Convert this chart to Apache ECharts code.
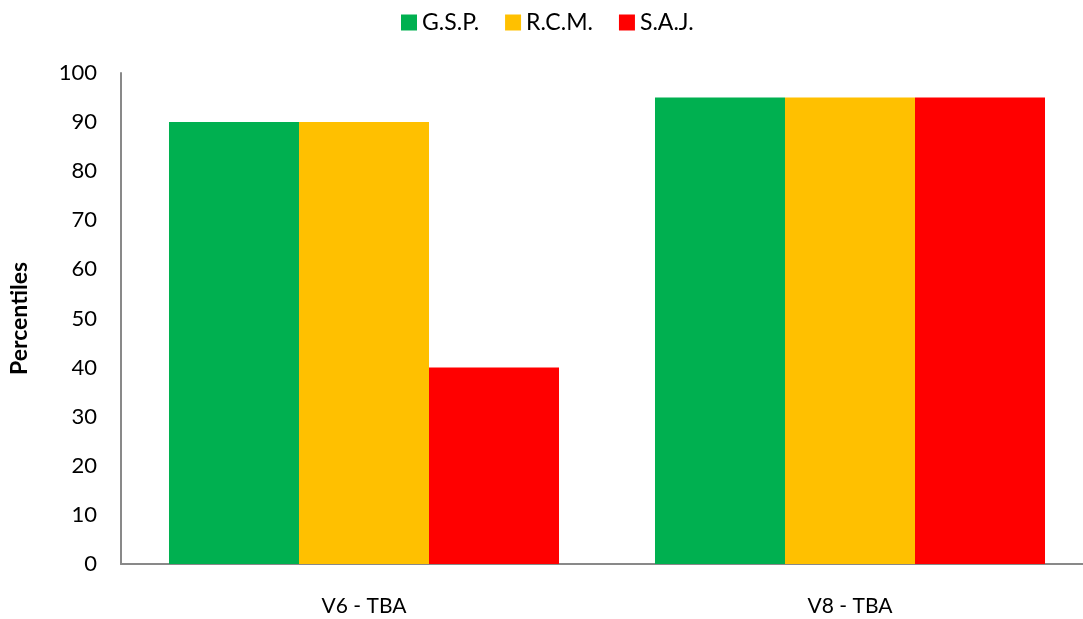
<!DOCTYPE html>
<html><head><meta charset="utf-8">
<script src="https://cdn.jsdelivr.net/npm/echarts@6/dist/echarts.min.js"></script>
<style>html,body{margin:0;padding:0;background:#fff;overflow:hidden}#c{width:1093px;height:619px}</style>
</head><body><div id="c"></div>
<script>
const categories = ['V6 - TBA', 'V8 - TBA'];
const seriesNames = ['G.S.P.', 'R.C.M.', 'S.A.J.'];
const gsp = [90, 95];
const rcm = [90, 95];
const saj = [40, 95];
const colors = ['#00B050', '#FFC000', '#FF0000'];
const font = 'Lato, "Open Sans", sans-serif';
const chart = echarts.init(document.getElementById('c'));
chart.setOption({
  animation: false,
  textStyle: {fontFamily: font},
  legend: {
    top: 11, left: 401, padding: 0, itemWidth: 16, itemHeight: 16, itemGap: 26,
    icon: 'rect',
    textStyle: {fontSize: 23, color: '#000', fontFamily: font}
  },
  grid: {left: 121, right: 0, top: 73, bottom: 55, containLabel: false},
  xAxis: {
    type: 'category', data: categories,
    axisLine: {lineStyle: {color: '#898989', width: 2}},
    axisTick: {show: false},
    axisLabel: {fontSize: 21, color: '#000', margin: 32, fontFamily: font}
  },
  yAxis: {
    type: 'value', min: 0, max: 100, interval: 10,
    name: 'Percentiles', nameLocation: 'middle', nameGap: 90,
    nameTextStyle: {fontSize: 23, fontWeight: 'bold', color: '#000', fontFamily: font},
    axisLine: {show: true, lineStyle: {color: '#898989', width: 2}},
    axisTick: {show: false},
    splitLine: {show: false},
    axisLabel: {fontSize: 22, color: '#000', margin: 24, fontFamily: font}
  },
  series: [gsp, rcm, saj].map((d, i) => ({
    name: seriesNames[i], type: 'bar', data: d,
    barGap: '0%', barCategoryGap: '19.75%',
    itemStyle: {color: colors[i]}
  }))
});
</script></body></html>
